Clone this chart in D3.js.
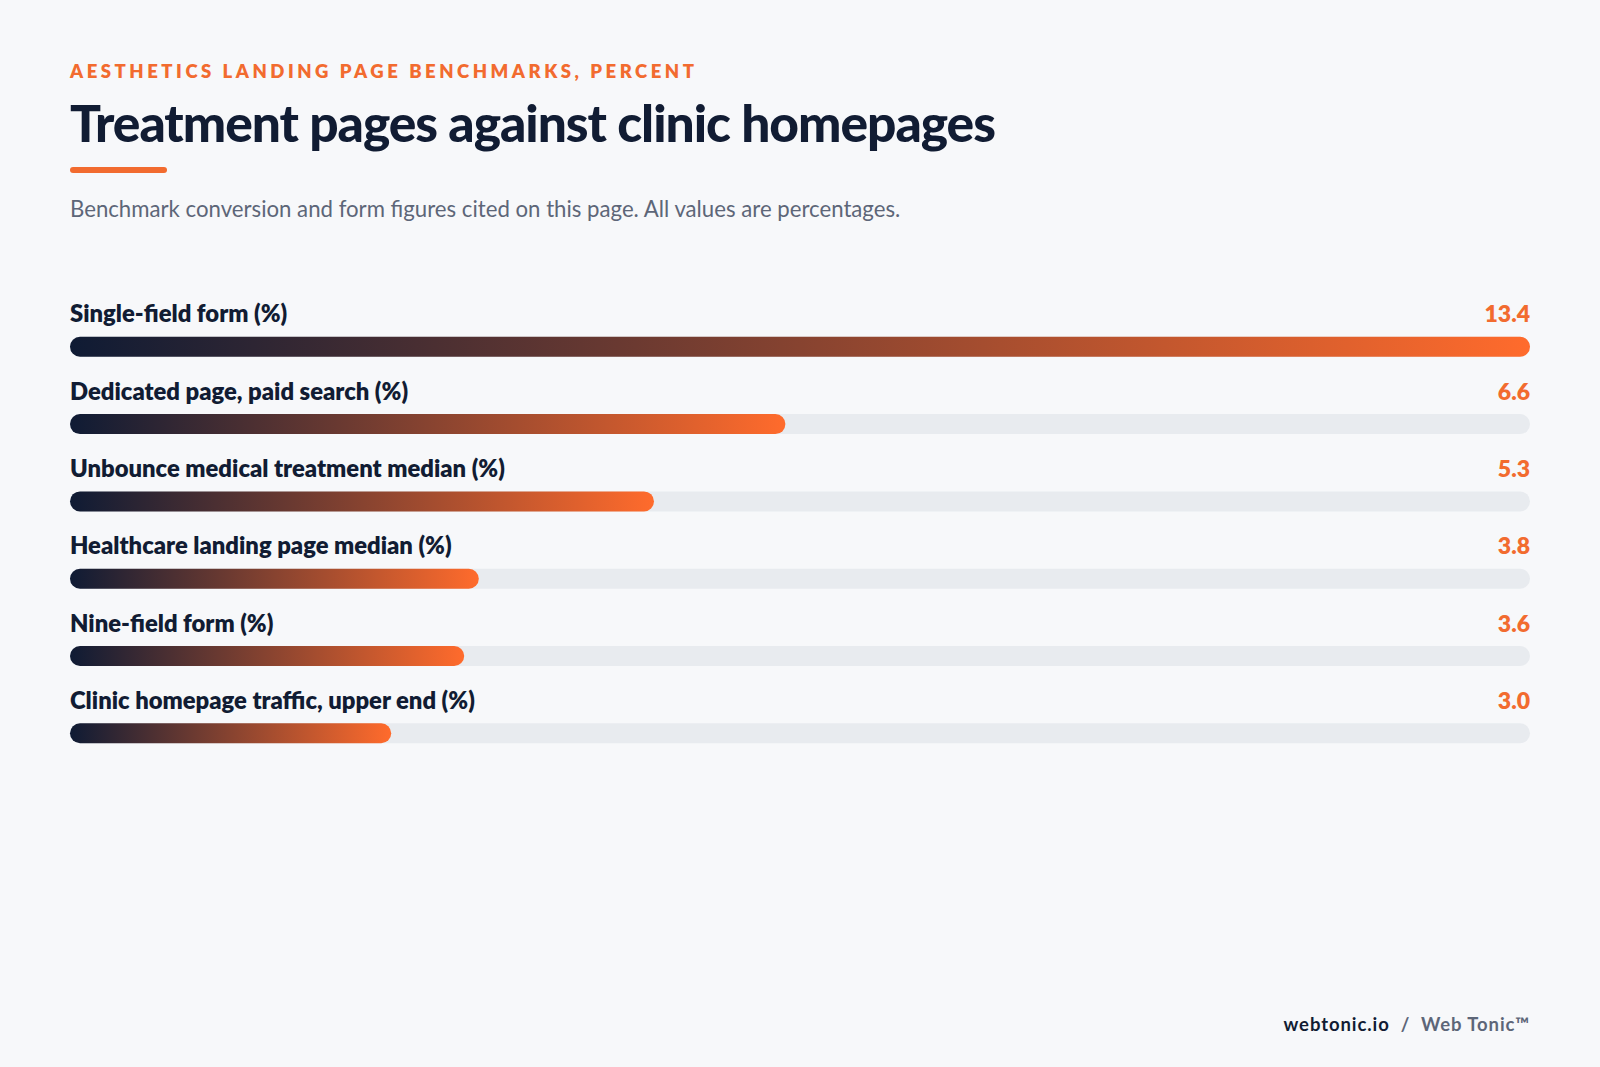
<!DOCTYPE html>
<html>
<head>
<meta charset="utf-8">
<script src="https://cdn.jsdelivr.net/npm/d3@7"></script>
<style>
  html, body { margin: 0; padding: 0; background: #f7f8fa; }
  svg { display: block; font-family: Lato, "Noto Sans", sans-serif; }
</style>
</head>
<body>
<script>
const categories = [
  "Single-field form (%)",
  "Dedicated page, paid search (%)",
  "Unbounce medical treatment median (%)",
  "Healthcare landing page median (%)",
  "Nine-field form (%)",
  "Clinic homepage traffic, upper end (%)"
];
const values = [13.4, 6.6, 5.3, 3.8, 3.6, 3.0];

const width = 1600;
const height = 1067;
const left = 70;
const right = 1530;
const barH = 20;

const navy = "#111c33";
const orange = "#f26b2f";

const svg = d3.select("body").append("svg")
  .attr("width", width)
  .attr("height", height);

svg.append("rect")
  .attr("width", width)
  .attr("height", height)
  .attr("fill", "#f7f8fa");

const grad = svg.append("defs").append("linearGradient")
  .attr("id", "barGrad")
  .attr("x1", "0%").attr("x2", "100%")
  .attr("y1", "0%").attr("y2", "0%");
grad.append("stop").attr("offset", "0%").attr("stop-color", "#0f1b34");
grad.append("stop").attr("offset", "100%").attr("stop-color", "#ff6b2c");

// header
svg.append("text")
  .attr("x", left).attr("y", 77.5)
  .attr("fill", orange)
  .attr("font-size", 18.5)
  .attr("font-weight", 800)
  .attr("letter-spacing", "0.19em")
  .text("AESTHETICS LANDING PAGE BENCHMARKS, PERCENT");

svg.append("text")
  .attr("x", left).attr("y", 142)
  .attr("fill", navy)
  .attr("font-size", 51.5)
  .attr("font-weight", 900)
  .attr("letter-spacing", "-0.02em")
  .text("Treatment pages against clinic homepages");

svg.append("rect")
  .attr("x", left).attr("y", 167)
  .attr("width", 97).attr("height", 6)
  .attr("rx", 3)
  .attr("fill", orange);

svg.append("text")
  .attr("x", left).attr("y", 217)
  .attr("fill", "#5d6678")
  .attr("font-size", 22.2)
  .text("Benchmark conversion and form figures cited on this page. All values are percentages.");

// bar length is the value as a whole percent of the largest one
const maxVal = d3.max(values);
const x = d3.scaleLinear()
  .domain([0, 100])
  .range([left, right]);

const y = d3.scalePoint()
  .domain(categories)
  .range([336.8, 336.8 + 5 * 77.3]);

const rows = svg.selectAll("g.row")
  .data(categories.map((c, i) => ({
    name: c,
    value: values[i],
    pct: Math.round(values[i] / maxVal * 100)
  })))
  .enter()
  .append("g")
  .attr("class", "row")
  .attr("transform", (d) => `translate(0,${y(d.name)})`);

rows.append("rect")
  .attr("x", x(0))
  .attr("width", x(100) - x(0))
  .attr("height", barH)
  .attr("rx", barH / 2)
  .attr("fill", "#e8ebef");

rows.append("rect")
  .attr("x", x(0))
  .attr("width", (d) => x(d.pct) - x(0))
  .attr("height", barH)
  .attr("rx", barH / 2)
  .attr("fill", "url(#barGrad)");

rows.append("text")
  .attr("x", left)
  .attr("y", -14.5)
  .attr("fill", navy)
  .attr("font-size", 23.8)
  .attr("font-weight", 800)
  .text((d) => d.name);

rows.append("text")
  .attr("x", right)
  .attr("y", -14.5)
  .attr("text-anchor", "end")
  .attr("fill", orange)
  .attr("font-size", 23)
  .attr("font-weight", 800)
  .text((d) => d.value.toFixed(1));

// footer
const foot = svg.append("text")
  .attr("x", right).attr("y", 1031)
  .attr("text-anchor", "end")
  .attr("font-size", 18.5)
  .attr("font-weight", 700)
  .attr("letter-spacing", "0.05em")
  .attr("xml:space", "preserve");
foot.append("tspan").attr("fill", navy).text("webtonic.io");
foot.append("tspan").attr("fill", "#5d6678").text("  /  Web Tonic\u2122");
</script>
</body>
</html>
